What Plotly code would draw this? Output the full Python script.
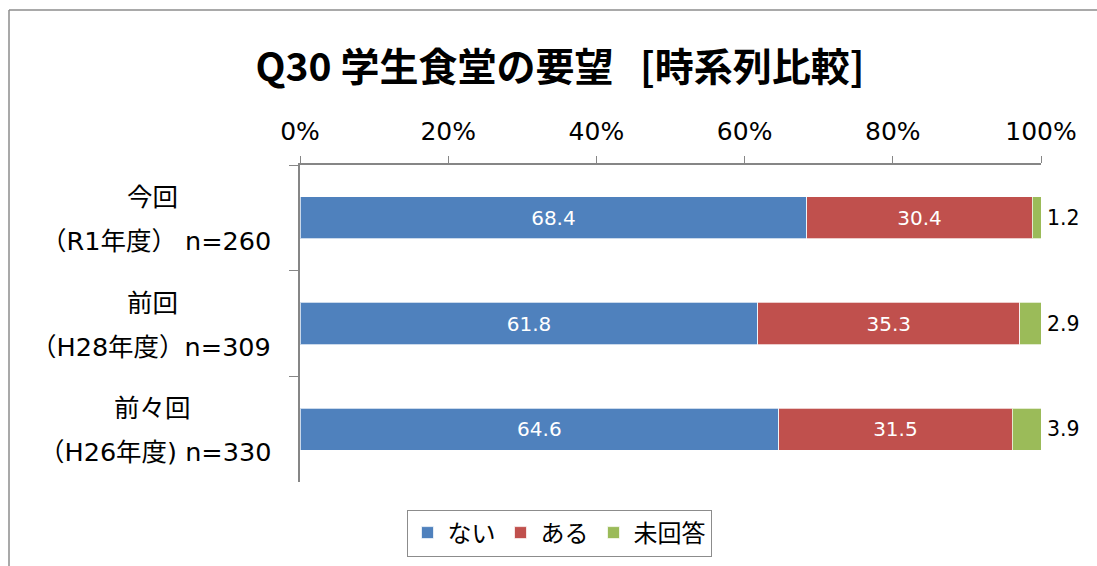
import plotly.graph_objects as go

categories = ["今回", "前回", "前々回"]
line1_labels = ["今回", "前回", "前々回"]
line2_labels = ["（R1年度） n=260", "（H28年度）n=309", "（H26年度) n=330"]
series_names = ["ない", "ある", "未回答"]
nai = [68.4, 61.8, 64.6]
aru = [30.4, 35.3, 31.5]
mikaito = [1.2, 2.9, 3.9]
tick_vals = [0, 20, 40, 60, 80, 100]
tick_text = ["0%", "20%", "40%", "60%", "80%", "100%"]
colors = ["#4F81BD", "#C0504D", "#9BBB59"]

FONT = "DejaVu Sans, Noto Sans CJK JP, sans-serif"
W, H = 1097, 566
ML, MR, MT, MB = 300, 56, 165, 84
PW, PH = W - ML - MR, H - MT - MB

def px_x(p):
    return (p - ML) / PW

def px_y(p):
    return (H - MB - p) / PH

fig = go.Figure()
series = [nai, aru, mikaito]
for name, vals, col in zip(series_names, series, colors):
    last = name == "未回答"
    fig.add_trace(go.Bar(
        name=name, y=categories, x=vals, orientation="h",
        marker=dict(color=col, line=dict(color="rgba(255,255,255,0.7)", width=1)),
        text=None if last else [f"{v:.1f}" for v in vals],
        textposition="none" if last else "inside",
        insidetextanchor="middle",
        textangle=0,
        textfont=dict(family=FONT, size=20, color="white"),
        hoverinfo="skip",
    ))

annotations = []
for i, (cat, l1, l2) in enumerate(zip(categories, line1_labels, line2_labels)):
    annotations.append(dict(xref="paper", yref="y", x=px_x(152), y=cat, text=l1,
                            showarrow=False, xanchor="center", yanchor="middle", yshift=21,
                            font=dict(family=FONT, size=25.5, color="black")))
    annotations.append(dict(xref="paper", yref="y", x=px_x(273), y=cat, text=l2,
                            showarrow=False, xanchor="right", yanchor="middle", yshift=-23,
                            font=dict(family=FONT, size=25.5, color="black")))
    total = min(round(nai[i] + aru[i] + mikaito[i], 1), 100.0)
    annotations.append(dict(xref="x", yref="y", x=total, y=cat, text=f"{mikaito[i]:.1f}",
                            showarrow=False, xanchor="left", yanchor="middle", xshift=4,
                            font=dict(family=FONT, size=20.5, color="black")))

axcol = "#868686"
shapes = [
    dict(type="line", xref="paper", yref="paper", x0=px_x(9), x1=px_x(1110), y0=px_y(10), y1=px_y(10),
         line=dict(color="#8c8c8c", width=1.5)),
    dict(type="line", xref="paper", yref="paper", x0=px_x(9), x1=px_x(9), y0=px_y(10), y1=px_y(580),
         line=dict(color="#8c8c8c", width=1.5)),
]

fig.update_layout(
    width=W, height=H,
    margin=dict(l=ML, r=MR, t=MT, b=MB, pad=0),
    barmode="stack", bargap=0.6,
    paper_bgcolor="white", plot_bgcolor="white",
    font=dict(family=FONT, color="black"),
    title=dict(text="<b>Q30 学生食堂の要望\u00a0\u00a0\u00a0[時系列比較]</b>", xref="container", yref="container",
               x=560 / W, y=1 - 67 / H, xanchor="center", yanchor="middle",
               font=dict(family="Noto Sans CJK JP, sans-serif", size=39, color="black")),
    xaxis=dict(side="top", range=[0, 100], tickvals=tick_vals, ticktext=tick_text,
               ticks="outside", ticklen=7, tickcolor=axcol, showline=True, linecolor=axcol, linewidth=1.5,
               ticklabelstandoff=6,
               showgrid=False, zeroline=False, tickfont=dict(family=FONT, size=25, color="black"),
               fixedrange=True),
    yaxis=dict(type="category", categoryorder="array", categoryarray=categories, autorange="reversed",
               ticks="outside", tickson="boundaries", ticklen=9, tickcolor=axcol,
               showline=True, linecolor=axcol, linewidth=1.5, showgrid=False, showticklabels=False,
               fixedrange=True),
    legend=dict(orientation="h", xref="container", yref="container", x=559 / W, y=1 - 533 / H,
                xanchor="center", yanchor="middle", bordercolor="#8c8c8c", borderwidth=1,
                font=dict(family=FONT, size=24, color="black"), traceorder="normal"),
    annotations=annotations,
    shapes=shapes,
    showlegend=True,
)

fig.write_html("out.html")
